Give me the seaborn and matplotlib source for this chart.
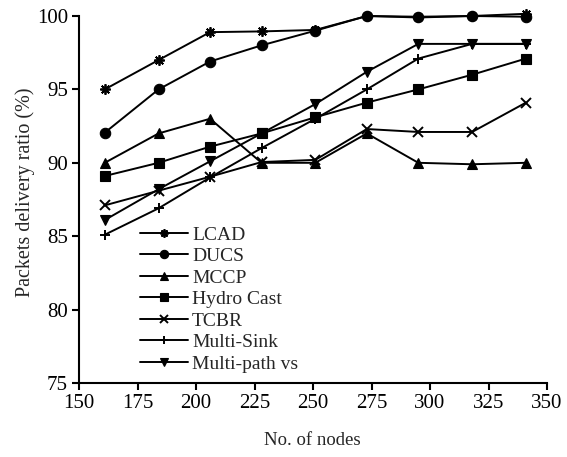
import matplotlib
matplotlib.use("Agg")
import matplotlib.pyplot as plt
import seaborn as sns
import pandas as pd

nodes = [161, 184, 206, 228, 251, 273, 295, 318, 341]
lcad = [95.0, 97.0, 98.9, 98.95, 99.05, 100.0, 99.95, 100.0, 100.15]
ducs = [92.05, 95.0, 96.9, 98.0, 99.0, 100.0, 99.9, 100.0, 99.95]
mccp = [90.0, 92.0, 93.0, 90.0, 90.0, 92.0, 90.0, 89.9, 90.0]
hydro = [89.1, 90.0, 91.1, 92.0, 93.1, 94.1, 95.0, 96.0, 97.1]
tcbr = [87.1, 88.1, 89.05, 90.05, 90.2, 92.3, 92.1, 92.1, 94.1]
msink = [85.1, 86.9, 89.0, 91.0, 93.0, 95.0, 97.1, 98.1, 98.1]
mpath = [86.1, 88.2, 90.1, 92.0, 94.0, 96.2, 98.1, 98.1, 98.1]

series_names = ["LCAD", "DUCS", "MCCP", "Hydro Cast", "TCBR", "Multi-Sink", "Multi-path vs"]
series_vals = [lcad, ducs, mccp, hydro, tcbr, msink, mpath]

sns.set_style("ticks")
plt.rcParams["font.family"] = ["Liberation Serif", "DejaVu Serif"]

fig = plt.figure(figsize=(5.67, 4.57), dpi=100)
ax = fig.add_axes([79/567, 1 - 383/457, 468/567, 367/457])

styles = {
    "LCAD": dict(marker=(8, 2, 0), markersize=7.5, mew=1.3),
    "DUCS": dict(marker="o", markersize=7.5, mew=0.8),
    "MCCP": dict(marker="^", markersize=7.5, mew=0.8),
    "Hydro Cast": dict(marker="s", markersize=7, mew=0.8),
    "TCBR": dict(marker="x", markersize=7, mew=1.4),
    "Multi-Sink": dict(marker="+", markersize=7.5, mew=1.4),
    "Multi-path vs": dict(marker="v", markersize=7.5, mew=0.8),
}

for name, vals in zip(series_names, series_vals):
    df = pd.DataFrame({"nodes": nodes, "pdr": vals})
    st = styles[name]
    sns.lineplot(data=df, x="nodes", y="pdr", ax=ax, color="black", lw=1.4,
                 marker=st["marker"], markersize=st["markersize"],
                 markeredgecolor="black", markerfacecolor="black",
                 markeredgewidth=st["mew"], label=name, clip_on=False)

ax.set_xlim(150, 350)
ax.set_ylim(75, 100)
ax.set_xticks(range(150, 351, 25))
ax.set_yticks(range(75, 101, 5))
sns.despine(ax=ax)
for sp in ["left", "bottom"]:
    ax.spines[sp].set_linewidth(1.5)
    ax.spines[sp].set_color("black")
ax.tick_params(axis="both", direction="out", length=5, width=1.5, labelsize=15, colors="black", pad=3)

ax.set_xlabel("No. of nodes", fontsize=13.5)
ax.set_ylabel("Packets delivery ratio (%)", fontsize=14.5)
ax.xaxis.set_label_coords((312 - 79) / 468, -(432 - 383) / 367)
ax.yaxis.set_label_coords(-(79 - 35) / 468, 1 - (192 - 16) / 367)

ax.legend(loc="upper left", bbox_to_anchor=((140 - 79) / 468, 1 - (226 - 16) / 367),
          frameon=False, fontsize=14, handlelength=2.47, handletextpad=0.2,
          labelspacing=0.2, borderpad=0, borderaxespad=0, markerscale=0.8)

fig.savefig("out.png", dpi=100)
